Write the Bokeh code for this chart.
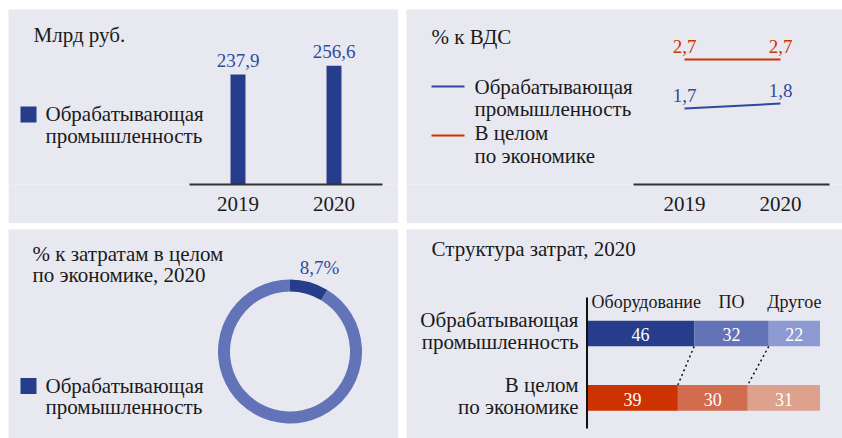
import numpy as np
from bokeh.plotting import figure
from bokeh.models import Range1d, Label, FixedTicker, Spacer
from bokeh.layouts import row, column
from bokeh.core.properties import value
from bokeh.embed import file_html
from bokeh.resources import INLINE

# ---------------- data ----------------
YEARS = [2019, 2020]
INVEST_BN = [237.9, 256.6]            # Млрд руб., обрабатывающая промышленность
SHARE_GVA_MANUF = [1.7, 1.8]          # % к ВДС, обрабатывающая промышленность
SHARE_GVA_TOTAL = [2.7, 2.7]          # % к ВДС, в целом по экономике
SHARE_OF_TOTAL = 8.7                  # % к затратам в целом по экономике, 2020
STRUCT_CATS = ["Оборудование", "ПО", "Другое"]
STRUCT_ROWS = [["Обрабатывающая", "промышленность"], ["В целом", "по экономике"]]
STRUCT_MANUF = [46, 32, 22]
STRUCT_TOTAL = [39, 30, 31]

# ---------------- style ----------------
FONT = "Liberation Serif"
BG = "#E7E8F0"
DARK = "#263D8C"
MID = "#6373B8"
LIGHT = "#8E9AD2"
RED = "#CC3300"
RED_MID = "#D26C4E"
RED_LIGHT = "#DCA28D"
BLUE_TXT = "#2F4C9E"
BLUE_LINE = "#2B4A9E"
TXT = "#1A1A1A"
AXIS = "#333333"
BIG = 21
VAL = 19
SH = 0.335      # renderer's alphabetic-baseline drop, as a fraction of font size


def fmt(v):
    return f"{v:.1f}".replace(".", ",")


class Geo:
    """Pixel <-> data helper for a figure whose frame starts at its top-left."""
    def __init__(self, w, h, xr, yr, bottom=0):
        self.w, self.h, self.bottom = w, h, bottom
        self.fh = h - bottom
        self.xr, self.yr = xr, yr
        self.xpx = w / (xr[1] - xr[0])
        self.ypx = self.fh / (yr[1] - yr[0])

    def x(self, fx):
        return self.xr[0] + fx / self.xpx

    def y(self, fy):
        return self.yr[1] - fy / self.ypx


def make_fig(g, x_axis=None):
    p = figure(width=g.w, height=g.h, x_range=Range1d(*g.xr),
               y_range=Range1d(*g.yr), title=None,
               x_axis_location=x_axis, y_axis_location=None,
               min_border_left=0, min_border_right=0,
               min_border_top=0, min_border_bottom=g.bottom,
               output_backend="svg", toolbar_location=None,
               background_fill_color=BG, border_fill_color=BG,
               outline_line_color=None)
    p.grid.visible = False
    return p


def style_year_axis(ax, bounds, standoff):
    ax.ticker = FixedTicker(ticks=YEARS)
    ax.bounds = bounds
    ax.axis_line_color = AXIS
    ax.axis_line_width = 2
    ax.major_tick_line_color = None
    ax.minor_tick_line_color = None
    ax.major_tick_out = 0
    ax.major_tick_in = 0
    ax.major_label_text_font = FONT
    ax.major_label_text_font_size = f"{BIG}px"
    ax.major_label_text_color = TXT
    ax.major_label_standoff = standoff


def put(p, g, fx, fy, txt, size=BIG, color=TXT, align="left"):
    """Place text with its baseline at figure pixel (fx, fy)."""
    p.add_layout(Label(x=g.x(fx), y=g.y(fy - SH * size), text=txt,
                       text_font=FONT, text_font_size=f"{size}px",
                       text_color=color, text_align=align,
                       text_baseline="alphabetic"))


def lift(g, v, gap_px, size):
    """Data y for a label whose baseline sits gap_px above data value v."""
    return v + (gap_px + SH * size) / g.ypx


def key_square(p, g, fx, fy, color):
    p.rect(x=[g.x(fx)], y=[g.y(fy)], width=16, height=16,
           width_units="screen", height_units="screen",
           fill_color=color, line_color=None)


# ---------------- panel 1: bars ----------------
g1 = Geo(390, 214, (2019 - 229.5 / 96, 2019 - 229.5 / 96 + 390 / 96),
         (0, 378.5), bottom=39)
p1 = make_fig(g1, x_axis="below")
style_year_axis(p1.xaxis[0], (YEARS[0] - 0.505, YEARS[-1] + 0.505), 12)
p1.vbar(x=YEARS, top=INVEST_BN, width=0.156, fill_color=DARK, line_color=None)
p1.text(x=YEARS, y=[lift(g1, v, 7.5, VAL) for v in INVEST_BN],
        text=[fmt(v) for v in INVEST_BN],
        text_font=value(FONT), text_font_size=f"{VAL}px", text_color=BLUE_TXT,
        text_align="center", text_baseline="alphabetic")
put(p1, g1, 25, 33, "Млрд руб.")
key_square(p1, g1, 20, 105, DARK)
put(p1, g1, 37, 112, "Обрабатывающая")
put(p1, g1, 37, 134, "промышленность")

# ---------------- panel 2: lines ----------------
g2 = Geo(436, 214, (2019 - 278 / 96, 2019 - 278 / 96 + 436 / 96),
         (1.7 - 76 / 49, 2.7 + 50 / 49), bottom=39)
p2 = make_fig(g2, x_axis="below")
style_year_axis(p2.xaxis[0], (YEARS[0] - 0.531, YEARS[-1] + 0.51), 12)
p2.line(YEARS, SHARE_GVA_MANUF, line_color=BLUE_LINE, line_width=2)
p2.line(YEARS, SHARE_GVA_TOTAL, line_color=RED, line_width=2)
for vals, col in ((SHARE_GVA_MANUF, BLUE_TXT), (SHARE_GVA_TOTAL, RED)):
    p2.text(x=YEARS, y=[lift(g2, v, 6.5, VAL) for v in vals],
            text=[fmt(v) for v in vals],
            text_font=value(FONT), text_font_size=f"{VAL}px", text_color=col,
            text_align="center", text_baseline="alphabetic")
put(p2, g2, 25, 35, "% к ВДС")
p2.segment(x0=[g2.x(25)], y0=[g2.y(77)], x1=[g2.x(58)], y1=[g2.y(77)],
           line_color=BLUE_LINE, line_width=2)
put(p2, g2, 68, 85, "Обрабатывающая")
put(p2, g2, 68, 107, "промышленность")
p2.segment(x0=[g2.x(25)], y0=[g2.y(126)], x1=[g2.x(58)], y1=[g2.y(126)],
           line_color=RED, line_width=2)
put(p2, g2, 68, 131, "В целом")
put(p2, g2, 68, 154, "по экономике")

# ---------------- panel 3: donut ----------------
g3 = Geo(390, 209, (-281.5, 108.5), (-87, 122))
p3 = make_fig(g3)
shares = np.array([SHARE_OF_TOTAL, 100 - SHARE_OF_TOTAL]) / 100.0
cum = np.concatenate([[0.0], np.cumsum(shares)])
starts = np.pi / 2 - cum[:-1] * 2 * np.pi
ends = np.pi / 2 - cum[1:] * 2 * np.pi
p3.annular_wedge(x=0, y=0, inner_radius=60, outer_radius=72,
                 start_angle=starts, end_angle=ends, direction="clock",
                 fill_color=[DARK, MID], line_color=None)
p3.text(x=[29.5], y=[78 + SH * VAL], text=[fmt(SHARE_OF_TOTAL) + "%"],
        text_font=value(FONT), text_font_size=f"{VAL}px", text_color=BLUE_TXT,
        text_align="center", text_baseline="alphabetic")
put(p3, g3, 24, 32, "% к затратам в целом")
put(p3, g3, 24, 53, "по экономике, 2020")
key_square(p3, g3, 20, 156.5, DARK)
put(p3, g3, 37, 163.5, "Обрабатывающая")
put(p3, g3, 37, 185, "промышленность")

# ---------------- panel 4: structure ----------------
BAR_H = 0.4
g4 = Geo(436, 209, (-180.5 / 2.33, (436 - 180.5) / 2.33),
         (-(209 - 168.3) / 64.3, 1 + 104 / 64.3))
p4 = make_fig(g4)
n_rows = len(STRUCT_ROWS)
row_y = [n_rows - 1 - i for i in range(n_rows)]     # first row on top

ys, lefts, rights, cols, vals = [], [], [], [], []
for yy, data, pal in zip(row_y, [STRUCT_MANUF, STRUCT_TOTAL],
                         [[DARK, MID, LIGHT], [RED, RED_MID, RED_LIGHT]]):
    c = np.concatenate([[0], np.cumsum(data)])
    for k in range(len(data)):
        ys.append(yy)
        lefts.append(c[k])
        rights.append(c[k + 1])
        cols.append(pal[k])
        vals.append(str(data[k]))
p4.hbar(y=ys, left=lefts, right=rights, height=BAR_H,
        fill_color=cols, line_color=None)
p4.text(x=[(a + b) / 2 for a, b in zip(lefts, rights)],
        y=[lift(g4, yy, -7.5, 18) for yy in ys], text=vals,
        text_font=value(FONT), text_font_size="18px", text_color="white",
        text_align="center", text_baseline="alphabetic")

# category axis line
p4.segment(x0=[0], y0=[g4.y(68)], x1=[0], y1=[g4.y(199)],
           line_color="#111111", line_width=2)

# dotted connectors between segment boundaries
cm = np.cumsum(STRUCT_MANUF)[:-1]
ct = np.cumsum(STRUCT_TOTAL)[:-1]
p4.segment(x0=cm, y0=[row_y[0] - BAR_H / 2] * len(cm),
           x1=ct, y1=[row_y[1] + BAR_H / 2] * len(ct),
           line_color="#111111", line_width=1.5, line_dash="2 3")

# segment headers above the first row
HDR = 18
cm_full = np.concatenate([[0], np.cumsum(STRUCT_MANUF)])
hdr_y = g4.y(79 - SH * HDR)
for k, cat in enumerate(STRUCT_CATS):
    if k == 0:
        hx, al = cm_full[0] + 4.5 / g4.xpx, "left"
    else:
        hx, al = (cm_full[k] + cm_full[k + 1]) / 2, "center"
    p4.add_layout(Label(x=hx, y=hdr_y, text=cat, text_font=FONT,
                        text_font_size=f"{HDR}px", text_color=TXT,
                        text_align=al, text_baseline="alphabetic"))

# row (category) labels, right-aligned left of the axis line
for yy, lines in zip(row_y, STRUCT_ROWS):
    base_px = (g4.yr[1] - yy) * g4.ypx        # pixel row of the bar centre
    put(p4, g4, 172, base_px - 6, lines[0], align="right")
    put(p4, g4, 172, base_px + 16, lines[1], align="right")

put(p4, g4, 25, 27, "Структура затрат, 2020")

grid = column(row(p1, p2, spacing=8), row(p3, p4, spacing=8), spacing=6)
page = column(Spacer(height=9), row(Spacer(width=8), grid))
open("out.html", "w").write(file_html(page, INLINE, title="chart"))
